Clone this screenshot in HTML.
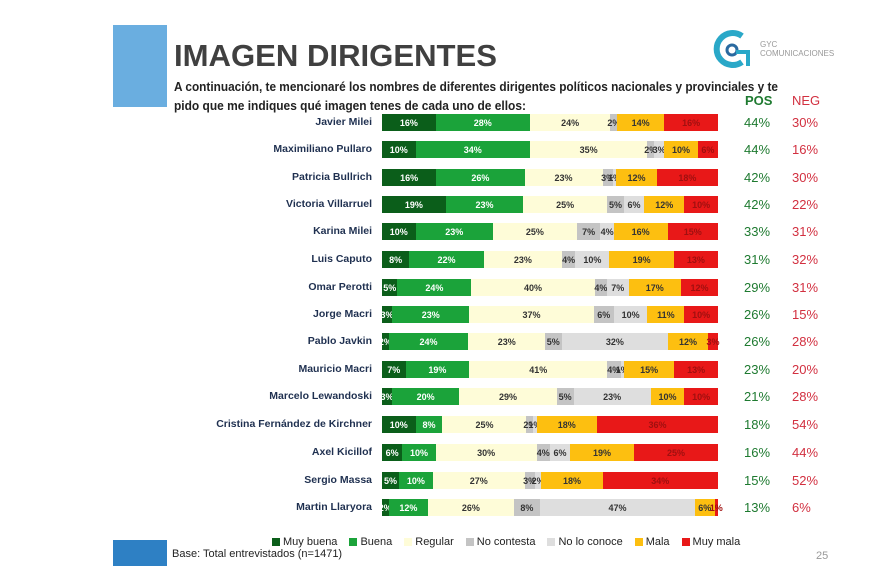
<!DOCTYPE html>
<html><head><meta charset="utf-8"><style>
body{margin:0;width:870px;height:580px;background:#fff;position:relative;overflow:hidden;font-family:"Liberation Sans",sans-serif}
.abs{position:absolute}
.name{position:absolute;right:498px;font-size:10.5px;font-weight:bold;color:#1f3050;white-space:nowrap}
.bar{position:absolute;left:382px;width:336px;height:17px;display:flex}
.bar div{height:100%;font-size:9px;font-weight:bold;display:flex;align-items:center;justify-content:center;overflow:visible;white-space:nowrap}
.pos{position:absolute;left:744px;font-size:13px;color:#1e7a30}
.neg{position:absolute;left:792px;font-size:13px;color:#d23040}
.lg{display:inline-flex;align-items:center;margin-right:12px}
.lg i{display:inline-block;width:8px;height:8px;margin-right:3px}
</style></head><body>
<div class="abs" style="left:113px;top:25px;width:54px;height:82px;background:#6aaee0"></div>
<div class="abs" style="left:113px;top:540px;width:54px;height:26px;background:#2e80c4"></div>
<svg class="abs" style="left:0;top:0" width="870" height="120">
<text x="174" y="66" font-family="Liberation Sans" font-size="31" font-weight="bold" fill="#404040" textLength="323" lengthAdjust="spacingAndGlyphs">IMAGEN DIRIGENTES</text>
<text x="174" y="91" font-family="Liberation Sans" font-size="13" font-weight="bold" fill="#222" textLength="604" lengthAdjust="spacingAndGlyphs">A continuación, te mencionaré los nombres de diferentes dirigentes políticos nacionales y provinciales y te</text>
<text x="174" y="110" font-family="Liberation Sans" font-size="13" font-weight="bold" fill="#222" textLength="352" lengthAdjust="spacingAndGlyphs">pido que me indiques qué imagen tenes de cada uno de ellos:</text>
<text x="745" y="105" font-family="Liberation Sans" font-size="13" font-weight="bold" fill="#1e7a30">POS</text>
<text x="792" y="105" font-family="Liberation Sans" font-size="13" fill="#d23040">NEG</text>
</svg>
<svg class="abs" style="left:712px;top:28px" width="40" height="44"><path d="M30 8 A16 16 0 1 0 30 34" stroke="#2aa8c8" stroke-width="6" fill="none"/><circle cx="20" cy="22" r="5" fill="none" stroke="#2a6aa0" stroke-width="3"/><path d="M24 24 h12 v14" stroke="#2aa8c8" stroke-width="4" fill="none"/></svg>
<div class="abs" style="left:760px;top:40px;font-size:8px;color:#999;line-height:9px">GYC<br>COMUNICACIONES</div>
<div id="rows"></div>
<div class="abs" style="left:272px;top:536px;font-size:11px;color:#222">
<span class="lg"><i style="background:#0b5e1a"></i>Muy buena</span><span class="lg"><i style="background:#1ba33a"></i>Buena</span><span class="lg"><i style="background:#fefcd8"></i>Regular</span><span class="lg"><i style="background:#c4c4c4"></i>No contesta</span><span class="lg"><i style="background:#dedede"></i>No lo conoce</span><span class="lg"><i style="background:#fdbf10"></i>Mala</span><span class="lg"><i style="background:#e81818"></i>Muy mala</span></div>
<div class="abs" style="left:172px;top:548px;font-size:11px;color:#222">Base: Total entrevistados (n=1471)</div>
<div class="abs" style="left:816px;top:550px;font-size:11px;color:#999">25</div>
<script>
var d=[["Javier Milei",[16,28,24,2,0,14,16],44,30],
["Maximiliano Pullaro",[10,34,35,2,3,10,6],44,16],
["Patricia Bullrich",[16,26,23,3,1,12,18],42,30],
["Victoria Villarruel",[19,23,25,5,6,12,10],42,22],
["Karina Milei",[10,23,25,7,4,16,15],33,31],
["Luis Caputo",[8,22,23,4,10,19,13],31,32],
["Omar Perotti",[5,24,40,4,7,17,12],29,31],
["Jorge Macri",[3,23,37,6,10,11,10],26,15],
["Pablo Javkin",[2,24,23,5,32,12,3],26,28],
["Mauricio Macri",[7,19,41,4,1,15,13],23,20],
["Marcelo Lewandoski",[3,20,29,5,23,10,10],21,28],
["Cristina Fernández de Kirchner",[10,8,25,2,1,18,36],18,54],
["Axel Kicillof",[6,10,30,4,6,19,25],16,44],
["Sergio Massa",[5,10,27,3,2,18,34],15,52],
["Martin Llaryora",[2,12,26,8,47,6,1],13,6]];
var ys=[122,149,177,204,231,259,287,314,341,369,396,424,452,480,507];
var col=["#0b5e1a","#1ba33a","#fefcd8","#c4c4c4","#dedede","#fdbf10","#e81818"];
var tc=["#fff","#fff","#333","#333","#333","#333","#a01010"];
var h="";
d.forEach(function(r,i){var y=ys[i];var s=r[1].reduce(function(a,b){return a+b},0);
h+='<div class="name" style="top:'+(y-6)+'px">'+r[0]+'</div><div class="bar" style="top:'+(y-8)+'px">';
r[1].forEach(function(v,j){if(v>0)h+='<div style="width:'+(v/s*100)+'%;background:'+col[j]+';color:'+tc[j]+'">'+v+'%</div>';});
h+='</div><div class="pos" style="top:'+(y-7)+'px">'+r[2]+'%</div><div class="neg" style="top:'+(y-7)+'px">'+r[3]+'%</div>';});
document.getElementById("rows").innerHTML=h;
</script>
</body></html>
